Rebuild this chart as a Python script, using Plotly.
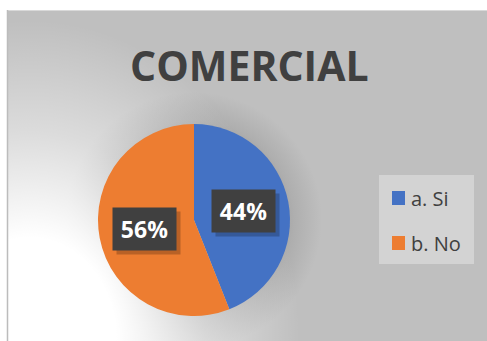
import base64
import math
import plotly.graph_objects as go

# Survey answers for the "COMERCIAL" question
labels = ["a. Si", "b. No"]
values = [44, 56]
colors = ["#4472C4", "#ED7D31"]
title_text = "COMERCIAL"

W, H = 487, 341
# chart-area frame (pixels)
AREA_X0, AREA_Y0 = 7, 10
# pie geometry (pixels)
CX, CY, R = 194, 220, 96


def px(x):
    return x / W


def py(y):
    return 1 - y / H


# Background: grey chart area with a soft shadow around the pie and a
# light falloff coming from the lower-left corner.
aw, ah = W - AREA_X0, H - AREA_Y0
scx, scy = CX - AREA_X0, CY - AREA_Y0
svg = f"""<svg xmlns='http://www.w3.org/2000/svg' width='{aw}' height='{ah}' viewBox='0 0 {aw} {ah}'>
<defs>
<radialGradient id='sh' gradientUnits='userSpaceOnUse' cx='{scx}' cy='{scy}' r='128'>
<stop offset='0.70' stop-color='#7a7a7a' stop-opacity='0.38'/>
<stop offset='0.78' stop-color='#7a7a7a' stop-opacity='0.24'/>
<stop offset='1' stop-color='#7a7a7a' stop-opacity='0'/>
</radialGradient>
<radialGradient id='lt'>
<stop offset='0' stop-color='#ffffff' stop-opacity='1'/>
<stop offset='0.32' stop-color='#ffffff' stop-opacity='1'/>
<stop offset='0.65' stop-color='#ffffff' stop-opacity='0.45'/>
<stop offset='1' stop-color='#ffffff' stop-opacity='0'/>
</radialGradient>
</defs>
<rect x='0' y='0' width='{aw}' height='{ah}' fill='#bfbfbf'/>
<circle cx='{scx}' cy='{scy}' r='128' fill='url(#sh)'/>
<ellipse cx='23' cy='330' rx='270' ry='320' fill='url(#lt)'/>
</svg>"""
bg_uri = "data:image/svg+xml;base64," + base64.b64encode(svg.encode()).decode()

fig = go.Figure(
    go.Pie(
        labels=labels,
        values=values,
        marker=dict(colors=colors, line=dict(width=0)),
        sort=False,
        direction="clockwise",
        rotation=0,
        textinfo="none",
        hoverinfo="label+percent",
        showlegend=False,
        domain=dict(x=[px(CX - R), px(CX + R)], y=[py(CY + R), py(CY - R)]),
    )
)

annotations = []
shapes = []

# Title
annotations.append(dict(
    x=px(250), y=py(65), xref="paper", yref="paper", showarrow=False,
    text=f"<b>{title_text}</b>", xanchor="center", yanchor="middle",
    font=dict(family="Open Sans", size=41, color="#404040"),
))

# Percentage labels in dark boxes, placed on each slice's mid angle
total = sum(values)
start = 90.0
label_r = 50
for v in values:
    sweep = 360.0 * v / total
    mid = math.radians(start - sweep / 2)
    start -= sweep
    lx = CX + label_r * math.cos(mid)
    ly = CY - label_r * math.sin(mid)
    pct = f"{round(100 * v / total)}%"
    # drop shadow
    annotations.append(dict(
        x=px(lx + 4), y=py(ly + 4), xref="paper", yref="paper", showarrow=False,
        text=" ", width=63, height=42, borderpad=0,
        bgcolor="rgba(0,0,0,0.22)", xanchor="center", yanchor="middle",
    ))
    annotations.append(dict(
        x=px(lx), y=py(ly), xref="paper", yref="paper", showarrow=False,
        text=f"<b>{pct}</b>", width=63, height=42, borderpad=0,
        bgcolor="#404040", xanchor="center", yanchor="middle",
        font=dict(family="Open Sans", size=23, color="#ffffff"),
    ))

# Legend box
shapes.append(dict(type="rect", xref="paper", yref="paper",
                   x0=px(379), x1=px(474), y0=py(264), y1=py(175),
                   fillcolor="#d3d3d3", line=dict(width=0), layer="above"))
item_y = [198, 243]
for lab, col, iy in zip(labels, colors, item_y):
    shapes.append(dict(type="rect", xref="paper", yref="paper",
                       x0=px(392), x1=px(405), y0=py(iy + 7), y1=py(iy - 7),
                       fillcolor=col, line=dict(width=0), layer="above"))
    annotations.append(dict(
        x=px(409), y=py(iy), xref="paper", yref="paper", showarrow=False,
        text=lab, xanchor="left", yanchor="middle",
        font=dict(family="Open Sans", size=20, color="#404040"),
    ))

# Chart-area frame lines
shapes.append(dict(type="line", xref="paper", yref="paper",
                   x0=px(AREA_X0), x1=1, y0=py(AREA_Y0 + 0.5), y1=py(AREA_Y0 + 0.5),
                   line=dict(color="#d9d9d9", width=1)))
shapes.append(dict(type="line", xref="paper", yref="paper",
                   x0=px(AREA_X0 + 0.5), x1=px(AREA_X0 + 0.5), y0=0, y1=py(AREA_Y0),
                   line=dict(color="#bcbcbc", width=1.5)))

fig.update_layout(
    width=W, height=H,
    margin=dict(l=0, r=0, t=0, b=0),
    paper_bgcolor="#ffffff",
    plot_bgcolor="#ffffff",
    annotations=annotations,
    shapes=shapes,
    images=[dict(
        source=bg_uri, xref="paper", yref="paper",
        x=px(AREA_X0), y=py(AREA_Y0), sizex=aw / W, sizey=ah / H,
        xanchor="left", yanchor="top", sizing="stretch", layer="below",
    )],
)

fig.write_html("out.html")
